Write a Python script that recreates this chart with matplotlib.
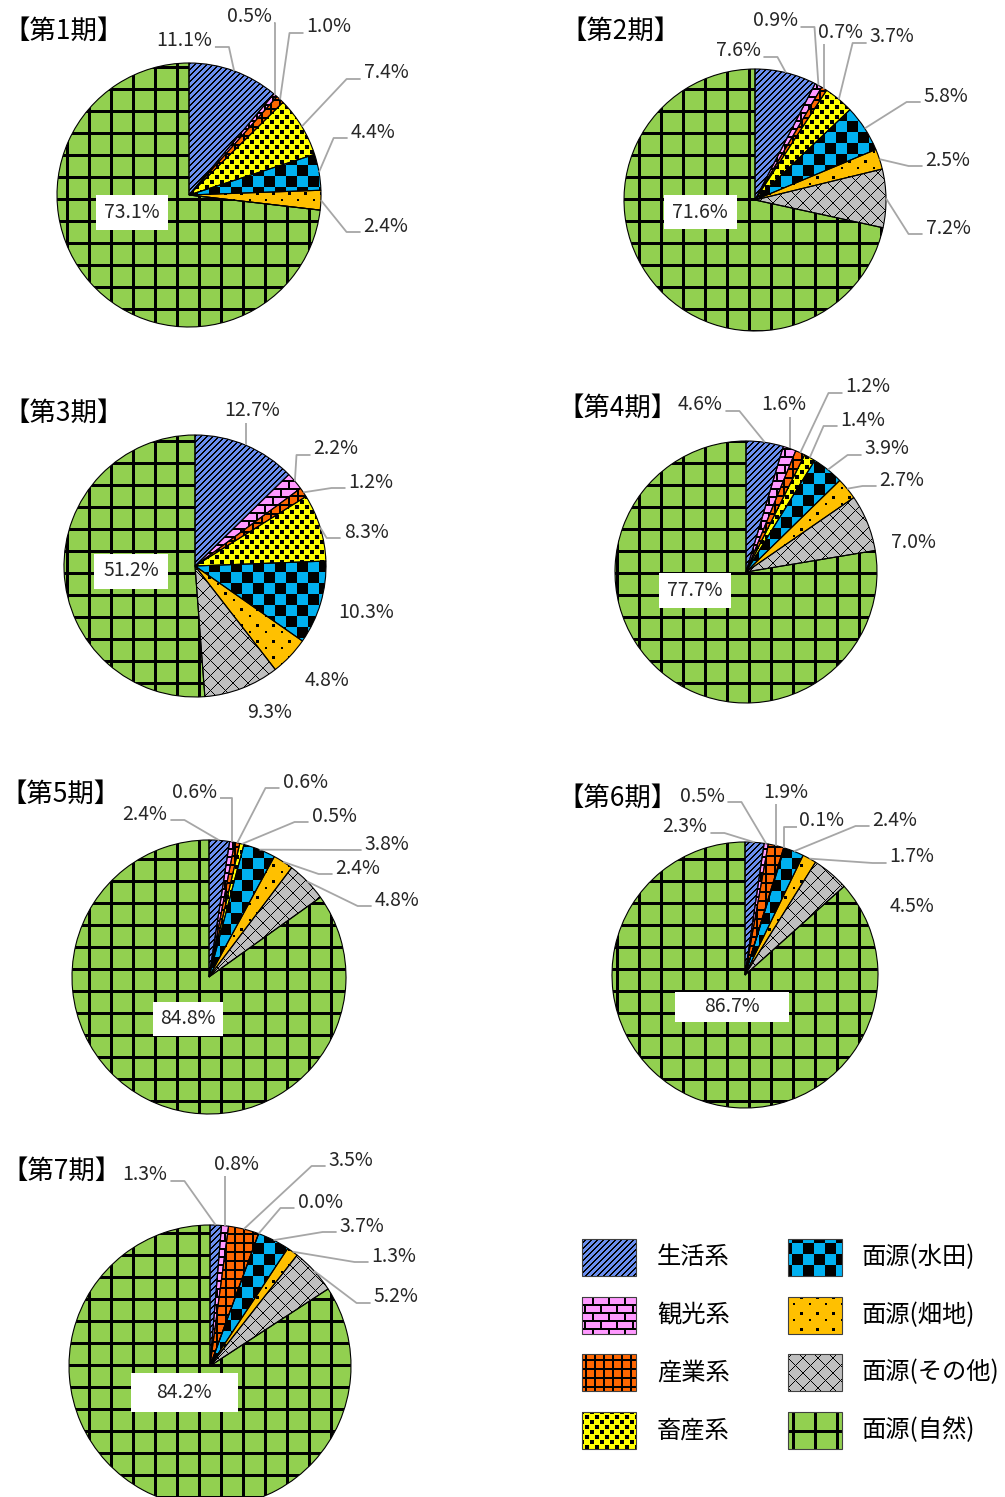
import numpy as np
import matplotlib.pyplot as plt
from matplotlib.patches import Rectangle

plt.rcParams['font.family'] = ['Noto Sans CJK JP', 'DejaVu Sans']

W, H = 1005, 1497

# categories (order of slices, clockwise from 12 o'clock)
CATEGORIES = ['生活系', '観光系', '産業系', '畜産系',
              '面源(水田)', '面源(畑地)', '面源(その他)', '面源(自然)']
COLORS = ['#6A8EEF', '#FF99FF', '#FF6600', '#FFFF00',
          '#00B0F0', '#FFC000', '#BFBFBF', '#92D050']
PERIODS = ['【第1期】', '【第2期】', '【第3期】', '【第4期】',
           '【第5期】', '【第6期】', '【第7期】']

# shares (%) per period; None = not reported
P1 = [11.1, 0.5, 1.0, 7.4, 4.4, 2.4, None, 73.1]
P2 = [7.6, 0.9, 0.7, 3.7, 5.8, 2.5, 7.2, 71.6]
P3 = [12.7, 2.2, 1.2, 8.3, 10.3, 4.8, 9.3, 51.2]
P4 = [4.6, 1.6, 1.2, 1.4, 3.9, 2.7, 7.0, 77.7]
P5 = [2.4, 0.6, 0.6, 0.5, 3.8, 2.4, 4.8, 84.8]
P6 = [2.3, 0.5, 1.9, 0.1, 2.4, 1.7, 4.5, 86.7]
P7 = [1.3, 0.8, 3.5, 0.0, 3.7, 1.3, 5.2, 84.2]
SHARES = [P1, P2, P3, P4, P5, P6, P7]

# ---- layout (pixels, y from top) ----
PIE_CENTERS = [(189, 195), (755, 200), (195, 566), (746, 572),
               (209, 977), (745, 975), (210, 1366)]
PIE_RADII = [132, 131, 131, 131, 137, 133, 141]
TITLE_POS = [(3, 31), (560, 31), (3, 413), (557, 408),
             (0, 794), (557, 798), (1, 1171)]

LABEL_POS = [
    [(184, 41), (249, 17), (329, 27), (386, 73), (373, 132), (386, 226), None],
    [(738, 51), (775, 21), (840, 32), (892, 37), (946, 96), (948, 160), (948, 228)],
    [(252, 411), (336, 449), (371, 482), (366, 532), (366, 613), (327, 681), (270, 712)],
    [(700, 405), (784, 405), (868, 387), (863, 420), (887, 449), (902, 480), (913, 543)],
    [(145, 814), (194, 792), (305, 782), (334, 816), (387, 844), (358, 868), (397, 900)],
    [(685, 827), (702, 796), (786, 792), (822, 821), (895, 820), (912, 857), (912, 906)],
    [(145, 1175), (236, 1164), (351, 1160), (320, 1202), (362, 1226), (394, 1256), (396, 1297)],
]
LEADERS = [
    [1, 1, 1, 1, 1, 1, 0],
    [1, 1, 1, 1, 1, 1, 1],
    [1, 1, 1, 1, 0, 0, 0],
    [1, 1, 1, 1, 1, 1, 0],
    [1, 1, 1, 1, 1, 1, 1],
    [1, 1, 1, 1, 1, 1, 0],
    [1, 1, 1, 1, 1, 1, 1],
]
# white label box of the large slice: centre x, centre y, width, height
BOXES = [(132, 212, 72, 35), (700, 212, 73, 34), (131, 571, 74, 35),
         (695, 590, 72, 35), (188, 1019, 70, 34), (732, 1007, 114, 30),
         (184, 1392, 107, 39)]

LABEL_FS = 14
TITLE_FS = 19
TEXT_COLOR = '#262626'
LEADER_COLOR = '#A6A6A6'


def build_textures():
    yy, xx = np.mgrid[0:H, 0:W]
    masks = [
        ((xx + yy) % 6) < 2,
        ((yy % 8) < 2) | (((xx + 8 * ((yy // 8) % 2)) % 16) < 2),
        ((xx % 9) < 2) | ((yy % 9) < 2),
        (((xx % 10) < 4) & ((yy % 10) < 4)) | ((((xx + 5) % 10) < 4) & (((yy + 5) % 10) < 4)),
        ((xx // 11 + yy // 11) % 2) == 0,
        (((xx % 16) < 3) & ((yy % 16) < 3)) | ((((xx + 7) % 16) < 2) & (((yy + 9) % 16) < 2)),
        (((xx + yy) % 15) == 0) | (((xx - yy) % 15) == 0),
        ((xx % 22) < 3) | ((yy % 22) < 3),
    ]
    textures = []
    for color, mask in zip(COLORS, masks):
        rgb = np.array([int(color[i:i + 2], 16) for i in (1, 3, 5)], dtype=np.uint8)
        tex = np.empty((H, W, 3), dtype=np.uint8)
        tex[:] = rgb
        tex[mask] = 0
        textures.append(tex)
    return textures


def fill_patch(ax, patch, tex, x0, y0, x1, y1):
    """Paint a texture (pixel box, y from top) clipped to a patch."""
    x0, y0 = max(int(x0), 0), max(int(y0), 0)
    x1, y1 = min(int(x1), W), min(int(y1), H)
    im = ax.imshow(tex[y0:y1, x0:x1], extent=(x0, x1, H - y1, H - y0),
                   origin='upper', interpolation='nearest', zorder=2)
    im.set_clip_path(patch)


def draw_leader(ax, edge, tx, ty, half_w):
    ex, ey = edge
    if tx - half_w + 4 < ex < tx + half_w - 4 and ey > ty:
        xs, ys = [ex, ex], [ty + 12, ey]
    else:
        side = 1 if ex > tx else -1
        sx = tx + side * (half_w + 3)
        sy = ty + 6
        step = min(14, abs(ex - sx))
        xs, ys = [sx, sx + side * step, ex], [sy, sy, ey]
    ax.plot(xs, [H - y for y in ys], color=LEADER_COLOR, lw=1.3, zorder=4,
            solid_capstyle='butt')


textures = build_textures()

fig = plt.figure(figsize=(W / 100, H / 100), dpi=100)
ax = fig.add_axes([0, 0, 1, 1])

all_wedges = []
for p, shares in enumerate(SHARES):
    cx, cy = PIE_CENTERS[p]
    r = PIE_RADII[p]
    vals = [0.0 if v is None else v for v in shares]
    wedges, _ = ax.pie(vals, startangle=90, counterclock=False,
                       center=(cx, H - cy), radius=r,
                       wedgeprops=dict(edgecolor='black', linewidth=0.8))
    for k, w in enumerate(wedges):
        fill_patch(ax, w, textures[k], cx - r - 2, cy - r - 2, cx + r + 3, cy + r + 3)
        w.set_facecolor('none')
        w.set_zorder(3)
    all_wedges.append(wedges)

ax.set_xlim(0, W)
ax.set_ylim(0, H)
ax.set_aspect('auto')
ax.axis('off')

renderer = fig.canvas.get_renderer()

for p, shares in enumerate(SHARES):
    cx, cy = PIE_CENTERS[p]
    r = PIE_RADII[p]
    tx, ty = TITLE_POS[p]
    ax.text(tx, H - ty, PERIODS[p], ha='left', va='center', fontsize=TITLE_FS,
            color='black')
    for k in range(7):
        if shares[k] is None or LABEL_POS[p][k] is None:
            continue
        lx, ly = LABEL_POS[p][k]
        t = ax.text(lx, H - ly, f'{shares[k]:.1f}%', ha='center', va='center',
                    fontsize=LABEL_FS, color=TEXT_COLOR, zorder=5)
        half_w = t.get_window_extent(renderer).width / 2
        if LEADERS[p][k]:
            w = all_wedges[p][k]
            mid = np.deg2rad((w.theta1 + w.theta2) / 2)
            edge = (cx + r * np.cos(mid), cy - r * np.sin(mid))
            draw_leader(ax, edge, lx, ly, half_w)
    bx, by, bw, bh = BOXES[p]
    ax.add_patch(Rectangle((bx - bw / 2, H - by - bh / 2), bw, bh,
                           facecolor='white', edgecolor='none', zorder=5))
    ax.text(bx, H - by, f'{shares[7]:.1f}%', ha='center', va='center',
            fontsize=LABEL_FS, color=TEXT_COLOR, zorder=6)

# legend
LEG_X = [582, 788]
LEG_TEXT_X = [657, 862]
LEG_Y = [1239, 1297, 1354, 1412]
SW, SH = 54, 37
for k, cat in enumerate(CATEGORIES):
    col, row = divmod(k, 4)
    x0, y0 = LEG_X[col], LEG_Y[row]
    rect = Rectangle((x0, H - y0 - SH), SW, SH, facecolor='none',
                     edgecolor='#404040', linewidth=0.8, zorder=3)
    ax.add_patch(rect)
    fill_patch(ax, rect, textures[k], x0 - 1, y0 - 1, x0 + SW + 2, y0 + SH + 2)
    ax.text(LEG_TEXT_X[col], H - y0 - SH / 2, cat, ha='left', va='center',
            fontsize=17.5, color='black')

ax.set_xlim(0, W)
ax.set_ylim(0, H)
fig.savefig('out.png', dpi=100)
